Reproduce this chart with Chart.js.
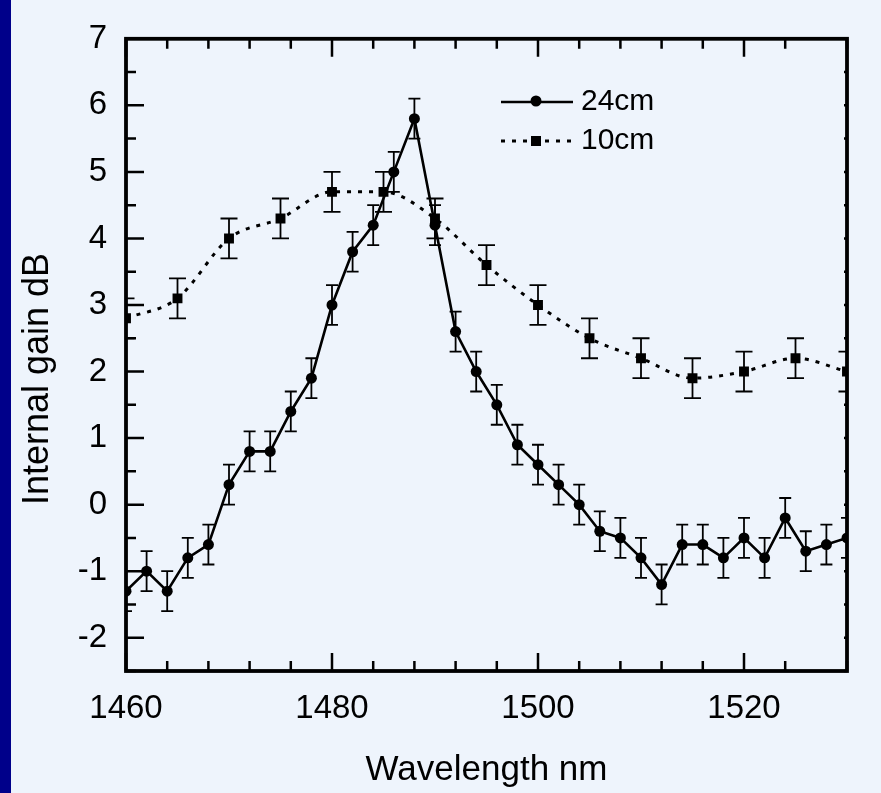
<!DOCTYPE html>
<html>
<head>
<meta charset="utf-8">
<script src="https://cdn.jsdelivr.net/npm/chart.js@4.4.1/dist/chart.umd.min.js"></script>
<style>
  html, body { margin: 0; padding: 0; background: #eef4fc; }
  #wrap { position: relative; width: 881px; height: 793px; }
</style>
</head>
<body>
<div id="wrap"><canvas id="canvas" width="881" height="793"></canvas></div>
<script>
// data
var wl24 = [1460, 1462, 1464, 1466, 1468, 1470, 1472, 1474, 1476, 1478, 1480, 1482,
            1484, 1486, 1488, 1490, 1492, 1494, 1496, 1498, 1500, 1502, 1504, 1506,
            1508, 1510, 1512, 1514, 1516, 1518, 1520, 1522, 1524, 1526, 1528, 1530];
var gain24 = [-1.3, -1.0, -1.3, -0.8, -0.6, 0.3, 0.8, 0.8, 1.4, 1.9, 3.0, 3.8,
              4.2, 5.0, 5.8, 4.2, 2.6, 2.0, 1.5, 0.9, 0.6, 0.3, 0.0, -0.4,
              -0.5, -0.8, -1.2, -0.6, -0.6, -0.8, -0.5, -0.8, -0.2, -0.7, -0.6, -0.5];
var err24 = [0.3, 0.3, 0.3, 0.3, 0.3, 0.3, 0.3, 0.3, 0.3, 0.3, 0.3, 0.3,
             0.3, 0.3, 0.3, 0.3, 0.3, 0.3, 0.3, 0.3, 0.3, 0.3, 0.3, 0.3,
             0.3, 0.3, 0.3, 0.3, 0.3, 0.3, 0.3, 0.3, 0.3, 0.3, 0.3, 0.3];
var wl10 = [1460, 1465, 1470, 1475, 1480, 1485, 1490, 1495, 1500, 1505, 1510, 1515, 1520, 1525, 1530];
var gain10 = [2.8, 3.1, 4.0, 4.3, 4.7, 4.7, 4.3, 3.6, 3.0, 2.5, 2.2, 1.9, 2.0, 2.2, 2.0];
var err10 = [0.3, 0.3, 0.3, 0.3, 0.3, 0.3, 0.3, 0.3, 0.3, 0.3, 0.3, 0.3, 0.3, 0.3, 0.3];
var seriesNames = ['24cm', '10cm'];
var xLabelStep = 20;   // labelled wavelengths 1460, 1480, 1500, 1520
var xTitle = 'Wavelength nm';
var yTitle = 'Internal gain dB';

var FONT = '"Liberation Sans", Arial, sans-serif';

function toPoints(xs, ys) {
  var pts = [];
  for (var i = 0; i < xs.length; i++) pts.push({ x: xs[i], y: ys[i] });
  return pts;
}

// error bars, drawn through the chart scales
function drawErrors(chart, xs, ys, es, capW) {
  var ctx = chart.ctx, sx = chart.scales.x, sy = chart.scales.y;
  ctx.beginPath();
  for (var i = 0; i < xs.length; i++) {
    var px = sx.getPixelForValue(xs[i]);
    var top = sy.getPixelForValue(ys[i] + es[i]);
    var bot = sy.getPixelForValue(ys[i] - es[i]);
    ctx.moveTo(px, top); ctx.lineTo(px, bot);
    ctx.moveTo(px - capW / 2, top); ctx.lineTo(px + capW / 2, top);
    ctx.moveTo(px - capW / 2, bot); ctx.lineTo(px + capW / 2, bot);
  }
  ctx.stroke();
}

var decor = {
  id: 'decor',
  beforeDraw: function (chart) {
    var ctx = chart.ctx;
    ctx.save();
    ctx.fillStyle = '#eef4fc';
    ctx.fillRect(0, 0, chart.width, chart.height);
    ctx.fillStyle = '#00008a';
    ctx.fillRect(0, 0, 11, chart.height);
    ctx.restore();
  },
  beforeDatasetsDraw: function (chart) {
    var ctx = chart.ctx, a = chart.chartArea;
    ctx.save();
    ctx.beginPath();
    ctx.rect(a.left, a.top, a.right - a.left, a.bottom - a.top);
    ctx.clip();
    ctx.strokeStyle = '#000';
    ctx.lineWidth = 1.8;
    drawErrors(chart, wl24, gain24, err24, 12);
    drawErrors(chart, wl10, gain10, err10, 17);
    ctx.restore();
  },
  afterDatasetsDraw: function (chart) {
    var ctx = chart.ctx, a = chart.chartArea;
    var sx = chart.scales.x, sy = chart.scales.y;
    ctx.save();
    ctx.strokeStyle = '#000';
    ctx.lineWidth = 2.5;
    ctx.beginPath();
    sx.ticks.forEach(function (t) {
      var px = sx.getPixelForValue(t.value);
      var len = (t.value % xLabelStep === 0) ? 18 : 10;
      ctx.moveTo(px, a.bottom); ctx.lineTo(px, a.bottom - len);
      ctx.moveTo(px, a.top); ctx.lineTo(px, a.top + len);
    });
    sy.ticks.forEach(function (t) {
      var py = sy.getPixelForValue(t.value);
      var len = (Math.round(t.value) === t.value) ? 18 : 10;
      ctx.moveTo(a.left, py); ctx.lineTo(a.left + len, py);
      ctx.moveTo(a.right, py); ctx.lineTo(a.right - 3, py);
    });
    ctx.stroke();
    // frame
    ctx.lineWidth = 3.8;
    ctx.strokeRect(a.left, a.top, a.right - a.left, a.bottom - a.top);

    // y title, sits a little below the middle in the original
    ctx.fillStyle = '#000';
    ctx.save();
    ctx.translate(38, 379);
    ctx.rotate(-Math.PI / 2);
    ctx.font = '36px ' + FONT;
    ctx.textAlign = 'center';
    ctx.textBaseline = 'middle';
    ctx.fillText(yTitle, 0, 0);
    ctx.restore();

    // legend
    var ds0 = chart.data.datasets[0], ds1 = chart.data.datasets[1];
    ctx.lineWidth = ds0.borderWidth;
    ctx.beginPath();
    ctx.moveTo(501, 102); ctx.lineTo(573, 102);
    ctx.stroke();
    ctx.beginPath();
    ctx.arc(536, 101, ds0.pointRadius, 0, Math.PI * 2);
    ctx.fill();
    ctx.lineWidth = ds1.borderWidth;
    ctx.setLineDash(ds1.borderDash);
    ctx.beginPath();
    ctx.moveTo(501, 141); ctx.lineTo(573, 141);
    ctx.stroke();
    ctx.setLineDash([]);
    ctx.fillRect(531, 136, 10, 10);
    ctx.font = '30px ' + FONT;
    ctx.textBaseline = 'middle';
    ctx.textAlign = 'left';
    ctx.fillText(seriesNames[0], 581, 102);
    ctx.fillText(seriesNames[1], 581, 141);
    ctx.restore();
  }
};

var ctx = document.getElementById('canvas');
var chart = new Chart(ctx, {
  type: 'line',
  data: {
    datasets: [{
      label: seriesNames[0],
      data: toPoints(wl24, gain24),
      borderColor: '#000',
      backgroundColor: '#000',
      borderWidth: 2.6,
      pointRadius: 5.5,
      pointStyle: 'circle',
      pointBorderWidth: 0,
      tension: 0,
      clip: 0
    }, {
      label: seriesNames[1],
      data: toPoints(wl10, gain10),
      borderColor: '#000',
      backgroundColor: '#000',
      borderWidth: 3,
      borderDash: [4, 7],
      pointRadius: 7,
      pointStyle: 'rect',
      pointBorderWidth: 0,
      cubicInterpolationMode: 'monotone',
      clip: 0
    }]
  },
  options: {
    responsive: false,
    devicePixelRatio: 1,
    animation: false,
    layout: { padding: { left: 0, right: 34, top: 38, bottom: 0 } },
    plugins: { legend: { display: false }, tooltip: { enabled: false } },
    scales: {
      x: {
        type: 'linear',
        min: 1460,
        max: 1530,
        grid: { display: false, drawTicks: false },
        border: { display: false },
        ticks: {
          stepSize: 4,
          autoSkip: false,
          maxRotation: 0,
          padding: 18,
          color: '#000',
          font: { family: FONT, size: 33 },
          callback: function (v) { return v % xLabelStep === 0 ? String(v) : ''; }
        },
        title: {
          display: true,
          text: xTitle,
          color: '#000',
          font: { family: FONT, size: 35 },
          padding: { top: 0, bottom: 2 }
        },
        afterFit: function (s) { s.height = 122; }
      },
      y: {
        type: 'linear',
        min: -2.5,
        max: 7,
        grid: { display: false, drawTicks: false },
        border: { display: false },
        ticks: {
          stepSize: 0.5,
          autoSkip: false,
          padding: 19,
          color: '#000',
          font: { family: FONT, size: 33 },
          callback: function (v) { return Math.round(v) === v ? String(v) : ''; }
        },
        title: { display: false },
        afterFit: function (s) { s.width = 126; }
      }
    }
  },
  plugins: [decor]
});
</script>
</body>
</html>
